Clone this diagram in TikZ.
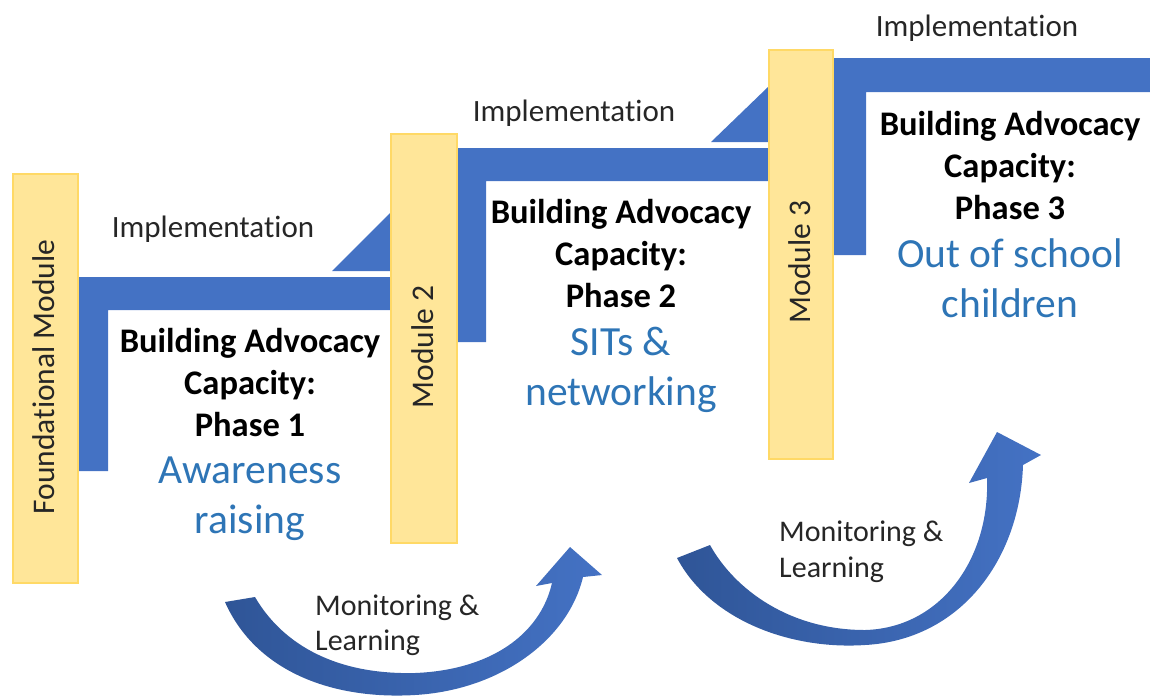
\documentclass[tikz,border=0pt]{standalone}
\usepackage{fontspec}
\setmainfont{Carlito}[Ligatures=NoCommon]
\definecolor{stepblue}{HTML}{4472C4}
\definecolor{darkblue}{HTML}{2F5597}
\definecolor{barfill}{HTML}{FFE699}
\definecolor{barline}{HTML}{FFD966}
\definecolor{bluetext}{HTML}{2E75B6}
\definecolor{graytext}{HTML}{262626}
\begin{document}
\begin{tikzpicture}[x=1pt,y=-1pt,
  modbar/.style={draw=barline, fill=barfill, line width=1.5pt, inner sep=0pt, anchor=north west},
  modlabel/.style={rotate=90, font=\fontsize{31.5}{37}\selectfont, text=graytext, inner sep=0pt},
  impl/.style={font=\fontsize{31}{37}\selectfont, text=graytext, anchor=base, inner sep=0pt},
  boldline/.style={font=\fontsize{34.5}{42}\selectfont\bfseries, anchor=base, inner sep=0pt},
  blueline/.style={font=\fontsize{41.5}{50}\selectfont, text=bluetext, anchor=base, inner sep=0pt},
  mlline/.style={font=\fontsize{30}{36}\selectfont, text=graytext, anchor=base west, inner sep=0pt},
  stepfill/.style={fill=stepblue},
  curvearrow/.style={left color=darkblue, right color=stepblue, shading angle=90}
]
\useasboundingbox (0,0) rectangle (1150,697);

% blue steps
\fill[stepfill] (77,277) -- (390,277) -- (390,310) -- (108,310) -- (108,471) -- (77,471) -- cycle;
\fill[stepfill] (456,148) -- (768,148) -- (768,181) -- (486,181) -- (486,342) -- (456,342) -- cycle;
\fill[stepfill] (832,58) -- (1150,58) -- (1150,92) -- (866,92) -- (866,255) -- (832,255) -- cycle;
% ramps
\fill[stepfill] (332,271) -- (390,271) -- (390,213) -- cycle;
\fill[stepfill] (711,142) -- (768,142) -- (768,87) -- cycle;

% module bars
\node[modbar, minimum width=65pt, minimum height=409pt] (fbar) at (12,173) {};
\node[modbar, minimum width=66pt, minimum height=409pt] (mbar2) at (390,133) {};
\node[modbar, minimum width=64pt, minimum height=409pt] (mbar3) at (768,49) {};
\node[modlabel] (flab) at (44,377) {Foundational Module};
\node[modlabel] (mlab2) at (423,347) {Module 2};
\node[modlabel] (mlab3) at (800,262) {Module 3};

% implementation labels
\node[impl] (imp1) at (213,237) {Implementation};
\node[impl] (imp2) at (574,121) {Implementation};
\node[impl] (imp3) at (977,36) {Implementation};

% phase 1
\node[boldline] (p1a) at (250,352) {Building Advocacy};
\node[boldline] (p1b) at (250,394) {Capacity:};
\node[boldline] (p1c) at (250,436) {Phase 1};
\node[blueline] (p1d) at (250,483) {Awareness};
\node[blueline] (p1e) at (250,533) {raising};

% phase 2
\node[boldline] (p2a) at (621,223) {Building Advocacy};
\node[boldline] (p2b) at (621,265) {Capacity:};
\node[boldline] (p2c) at (621,307) {Phase 2};
\node[blueline] (p2d) at (621,355) {SITs \&};
\node[blueline] (p2e) at (621,405) {networking};

% phase 3
\node[boldline] (p3a) at (1010,135) {Building Advocacy};
\node[boldline] (p3b) at (1010,177) {Capacity:};
\node[boldline] (p3c) at (1010,219) {Phase 3};
\node[blueline] (p3d) at (1010,267) {Out of school};
\node[blueline] (p3e) at (1010,317) {children};

% curved arrows
\shade[curvearrow] (225,602) .. controls (255,670) and (330,700) .. (415,695)
  .. controls (500,690) and (568,640) .. (583,577) -- (602,575) -- (570,547) -- (536,586) -- (552,583)
  .. controls (540,635) and (490,670) .. (415,673)
  .. controls (330,675) and (280,640) .. (255,597) -- cycle;
\shade[curvearrow] (677,558) .. controls (710,620) and (790,650) .. (865,645)
  .. controls (960,640) and (1020,560) .. (1023,465) -- (1041,455) -- (997,432) -- (969,483) -- (987,478)
  .. controls (990,560) and (940,628) .. (865,630)
  .. controls (790,630) and (735,590) .. (710,545) -- cycle;

% monitoring labels
\node[mlline] (ml1a) at (315,615) {Monitoring \&};
\node[mlline] (ml1b) at (315,650) {Learning};
\node[mlline] (ml2a) at (779,541) {Monitoring \&};
\node[mlline] (ml2b) at (779,577) {Learning};
\end{tikzpicture}
\end{document}
